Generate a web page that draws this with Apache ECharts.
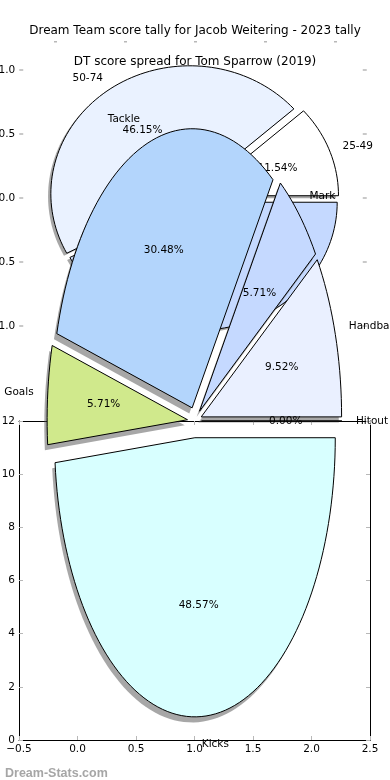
<!DOCTYPE html>
<html>
<head>
<meta charset="utf-8">
<script src="https://cdn.jsdelivr.net/npm/echarts@6/dist/echarts.min.js"></script>
<style>html,body{margin:0;padding:0;background:#fff}#c{width:390px;height:780px}</style>
</head>
<body>
<div id="c"></div>
<script>
// ---- data ----
const title1 = 'Dream Team score tally for Jacob Weitering - 2023 tally';
const title2 = 'DT score spread for Tom Sparrow (2019)';
const watermark = 'Dream-Stats.com';

// pie 2 (DT score spread), counterclockwise from 0°; the last two slices are hidden behind pie 3
const pie2Names = ['25-49', '50-74', '', ''];
const pie2Values = [11.54, 46.15, 19.23, 23.08];
const pie2PctLabels = ['11.54%', '46.15%', '', ''];
const pie2Explode = [0.05, 0.04, 0.0, 0.05];

// pie 3 (score tally), counterclockwise from 0°
const pie3Names = ['Handball', 'Mark', 'Tackle', 'Goals', 'Kicks', 'Hitout'];
const pie3Values = [9.52, 5.71, 30.48, 5.71, 48.57, 0.00];
const pie3PctLabels = ['9.52%', '5.71%', '30.48%', '5.71%', '48.57%', '0.00%'];
const pie3Explode = [0.05, 0.05, 0.05, 0.05, 0.06, 0.05];

// axis ticks
const bottomXTicks = [-0.5, 0.0, 0.5, 1.0, 1.5, 2.0, 2.5];
const bottomYTicks = [0, 2, 4, 6, 8, 10, 12];
const midYTicks = [-1.0, -0.5, 0.0, 0.5, 1.0];

// ---- styles ----
const pie2Colors = ['#ffffff', '#eaf2ff', '#d6e4ff', '#c5d9ff'];
const pie3Colors = ['#eaf0ff', '#c5d9ff', '#b3d5fc', '#d0e98c', '#d8ffff', '#ffffff'];
const FONT = 'DejaVu Sans';
const fmtNum = v => (v < 0 ? '\u2212' : '') + Math.abs(v).toFixed(1);

function makePie(names, values, pcts, explode, colors, geo) {
  const total = values.reduce((a, b) => a + b, 0);
  const starts = [];
  let acc = 0;
  values.forEach(v => { starts.push(acc / total * 360); acc += v; });
  return function (params, api) {
    const i = params.dataIndex;
    const a0 = starts[i];
    const a1 = a0 + values[i] / total * 360;
    const mid = (a0 + a1) / 2 * Math.PI / 180;
    const cx = geo.cx + explode[i] * geo.rx * Math.cos(mid);
    const cy = geo.cy + explode[i] * geo.ry * Math.sin(mid);
    const n = Math.max(2, Math.ceil((a1 - a0) / 2));
    const pts = [[cx, cy]];
    for (let k = 0; k <= n; k++) {
      const a = (a0 + (a1 - a0) * k / n) * Math.PI / 180;
      pts.push([cx + geo.rx * Math.cos(a), cy + geo.ry * Math.sin(a)]);
    }
    const px = pts.map(p => api.coord(p));
    const sh = pts.map(p => api.coord([p[0] - 0.02 * geo.rx, p[1] - 0.02 * geo.ry]));
    const lp = api.coord([cx + 1.1 * geo.rx * Math.cos(mid), cy + 1.1 * geo.ry * Math.sin(mid)]);
    const pp = api.coord([cx + 0.6 * geo.rx * Math.cos(mid), cy + 0.6 * geo.ry * Math.sin(mid)]);
    return {
      type: 'group',
      children: [
        { type: 'polygon', z2: 0, shape: { points: sh }, style: { fill: 'rgba(80,80,80,0.5)', stroke: null } },
        { type: 'polygon', z2: 10, shape: { points: px }, style: { fill: colors[i], stroke: '#000', lineWidth: 1 } },
        { type: 'text', z2: 20, x: lp[0], y: lp[1], style: { text: names[i], fill: '#000', fontFamily: FONT, fontSize: 10.5, align: Math.cos(mid) >= -1e-9 ? 'left' : 'right', verticalAlign: 'middle' } },
        { type: 'text', z2: 20, x: pp[0], y: pp[1], style: { text: pcts[i], fill: '#000', fontFamily: FONT, fontSize: 10.5, align: 'center', verticalAlign: 'middle' } }
      ]
    };
  };
}

const chart = echarts.init(document.getElementById('c'), null, { renderer: 'canvas' });
const tickGray = '#b8b8b8';
const labelStyle = { color: '#000', fontFamily: FONT, fontSize: 10.5 };
const frameLine = { show: true, onZero: false, lineStyle: { color: '#000', width: 1 } };

const option = {
  animation: false,
  backgroundColor: '#fff',
  title: [
    { text: title1, left: 'center', top: 20, textStyle: { fontFamily: FONT, fontSize: 12, fontWeight: 'normal', color: '#000' } },
    { text: title2, left: 'center', top: 51, textStyle: { fontFamily: FONT, fontSize: 12, fontWeight: 'normal', color: '#000' } },
    { text: watermark, left: 0, top: 762, textStyle: { fontFamily: 'Liberation Sans', fontSize: 12.5, fontWeight: 'bold', color: '#a6a6a6' } }
  ],
  grid: [
    { left: 55, right: 55, top: 41, height: 300, outerBoundsMode: 'none', containLabel: false },
    { left: 19.25, right: 23.25, top: 70, bottom: 454, outerBoundsMode: 'none', containLabel: false },
    { left: 19, right: 20, top: 421, bottom: 40, outerBoundsMode: 'none', containLabel: false }
  ],
  xAxis: [
    { gridIndex: 0, type: 'value', position: 'top', min: 0, max: 4, interval: 1,
      axisLine: { show: false, onZero: false }, splitLine: { show: false }, axisLabel: { show: false },
      axisTick: { show: true, inside: true, length: 1.5, lineStyle: { color: tickGray, width: 3 } } },
    { gridIndex: 1, type: 'value', min: -1.25, max: 1.25, interval: 0.25, show: false, axisLine: { onZero: false } },
    { gridIndex: 2, type: 'value', min: bottomXTicks[0], max: bottomXTicks[bottomXTicks.length - 1], interval: 0.5, position: 'bottom',
      axisLine: frameLine, splitLine: { show: false },
      axisTick: { inside: true, length: 4, lineStyle: { color: tickGray } },
      axisLabel: Object.assign({ margin: 4, formatter: fmtNum }, labelStyle) },
    { gridIndex: 2, type: 'value', min: bottomXTicks[0], max: bottomXTicks[bottomXTicks.length - 1], interval: 0.5, position: 'top',
      axisLine: frameLine, splitLine: { show: false },
      axisTick: { inside: true, length: 4, lineStyle: { color: tickGray } }, axisLabel: { show: false } }
  ],
  yAxis: [
    { gridIndex: 0, type: 'value', min: 0, max: 1, show: false, axisLine: { onZero: false } },
    { gridIndex: 1, type: 'value', min: midYTicks[0], max: midYTicks[midYTicks.length - 1], interval: 0.5, position: 'left',
      axisLine: { show: false, onZero: false }, splitLine: { show: false },
      axisTick: { show: true, inside: true, length: 4, lineStyle: { color: tickGray, width: 1.5 } },
      axisLabel: Object.assign({ margin: 4, formatter: fmtNum }, labelStyle) },
    { gridIndex: 1, type: 'value', min: midYTicks[0], max: midYTicks[midYTicks.length - 1], interval: 0.5, position: 'right',
      axisLine: { show: false, onZero: false }, splitLine: { show: false },
      axisTick: { show: true, inside: true, length: 4, lineStyle: { color: tickGray, width: 1.5 } }, axisLabel: { show: false } },
    { gridIndex: 2, type: 'value', min: bottomYTicks[0], max: bottomYTicks[bottomYTicks.length - 1], interval: 2, position: 'left',
      axisLine: frameLine, splitLine: { show: false },
      axisTick: { inside: true, length: 4, lineStyle: { color: tickGray } },
      axisLabel: Object.assign({ margin: 4 }, labelStyle) },
    { gridIndex: 2, type: 'value', min: bottomYTicks[0], max: bottomYTicks[bottomYTicks.length - 1], interval: 2, position: 'right',
      axisLine: frameLine, splitLine: { show: false },
      axisTick: { inside: true, length: 4, lineStyle: { color: tickGray } }, axisLabel: { show: false } }
  ],
  series: [
    {
      type: 'custom', name: 'DT score spread', xAxisIndex: 1, yAxisIndex: 1, z: 3, clip: false,
      data: pie2Values.map((v, i) => ({ name: pie2Names[i], value: [0, 0, v] })),
      renderItem: makePie(pie2Names, pie2Values, pie2PctLabels, pie2Explode, pie2Colors, { cx: 0, cy: 0, rx: 1, ry: 1 })
    },
    {
      type: 'custom', name: 'Score tally', xAxisIndex: 2, yAxisIndex: 3, z: 4, clip: false,
      data: pie3Values.map((v, i) => ({ name: pie3Names[i], value: [1, 12, v] })),
      renderItem: makePie(pie3Names, pie3Values, pie3PctLabels, pie3Explode, pie3Colors, { cx: 1, cy: 12, rx: 1.2, ry: 10.5 })
    }
  ]
};
chart.setOption(option);
</script>
</body>
</html>
